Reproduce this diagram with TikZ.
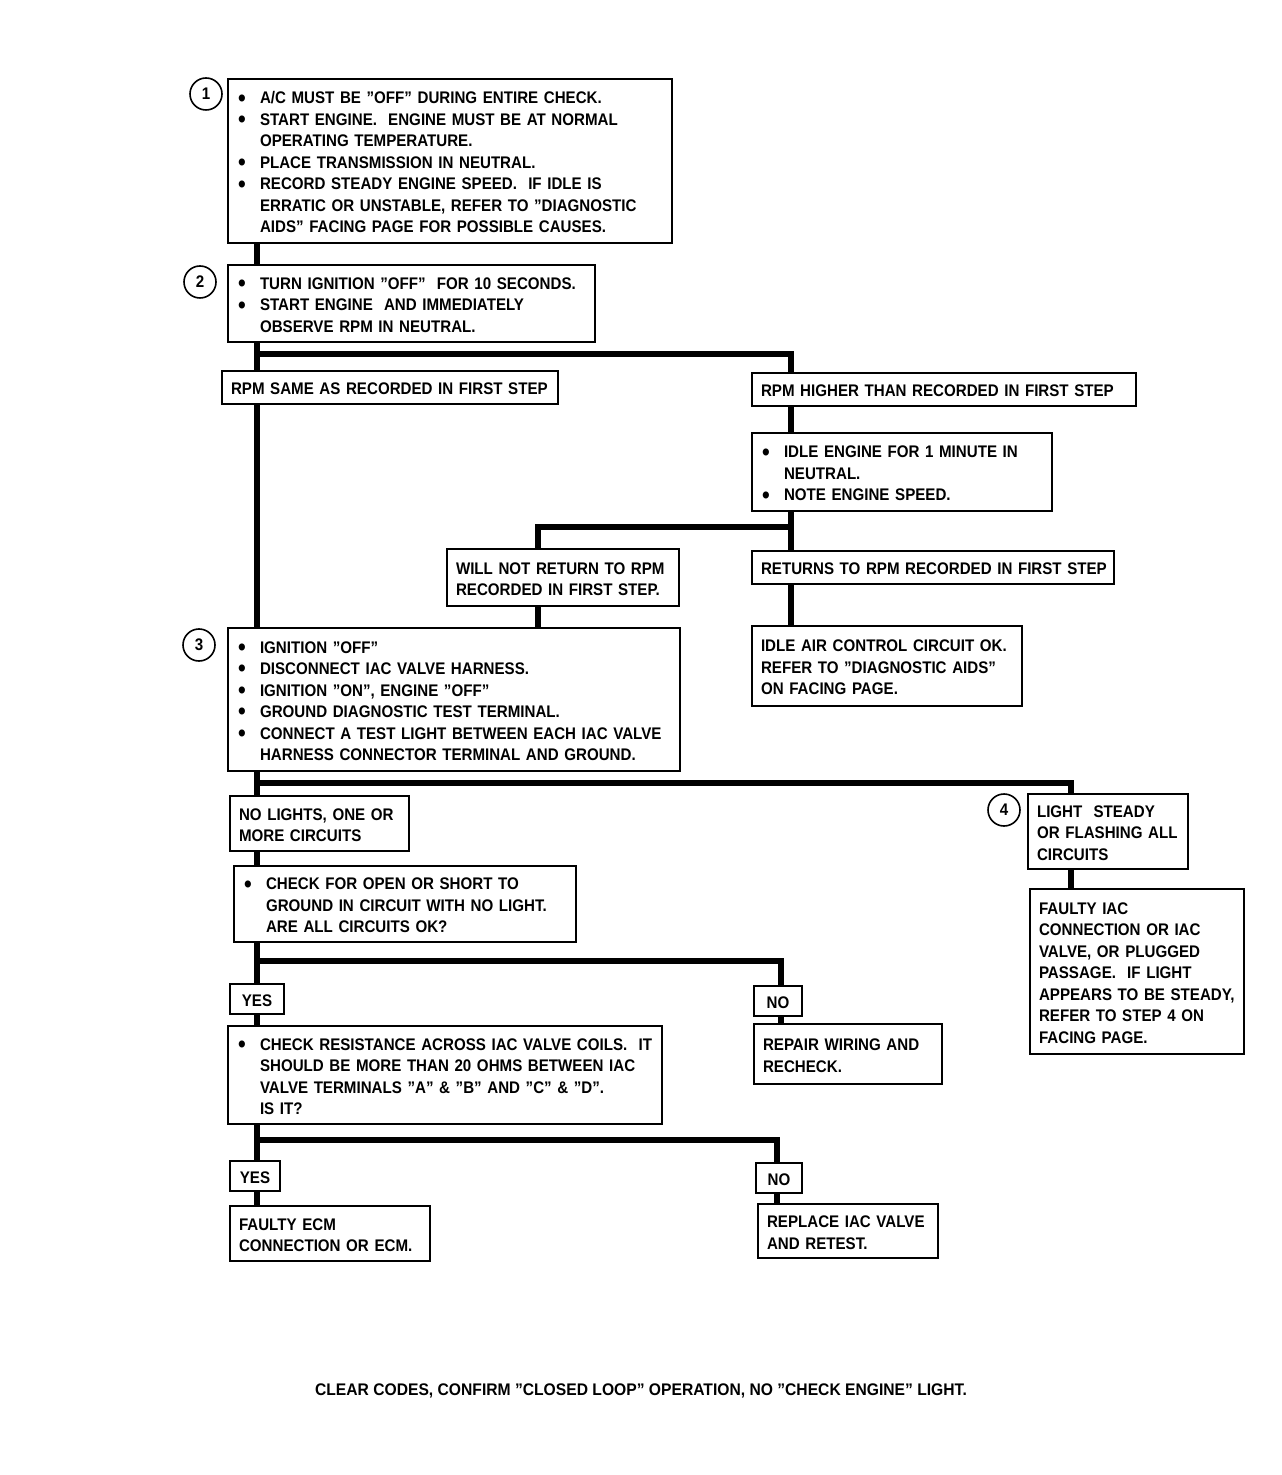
\documentclass[tikz,border=0pt]{standalone}
\usepackage{fontspec}
\setmainfont{Liberation Sans}[FakeStretch=0.9]
\newcommand\diagfont{\bfseries\fontsize{8.4}{10.75}\selectfont}
\newcommand\bulitem{\makebox[11.5pt][l]{\hspace*{0.6pt}\raisebox{-1.2pt}{\scalebox{1.45}{\textbullet}}}}
\newcommand\contind{\hspace*{11.5pt}}
\tikzset{
  box/.style={draw, line width=1pt, anchor=north west, align=left, inner xsep=4.5pt, inner ysep=0pt, font=\diagfont},
  ynbox/.style={draw, line width=1pt, anchor=north west, align=center, inner sep=0pt, font=\diagfont},
  conn/.style={line width=2.6pt},
  num/.style={circle, draw, line width=0.8pt, minimum size=16pt, inner sep=0pt, font=\diagfont},
}
\newcommand\bx[6]{%
  \pgfmathsetmacro\bxw{(#4-#2)*0.5-9}%
  \pgfmathsetmacro\bxh{(#5-#3)*0.5}%
  \node[box, text width=\bxw pt, minimum height=\bxh pt] (#1) at (#2,#3) {\raisebox{-1.5pt}[\height][\depth]{\begin{tabular}{@{}l@{}}#6\end{tabular}}};}
\newcommand\yn[6]{%
  \pgfmathsetmacro\bxw{(#4-#2)*0.5}%
  \pgfmathsetmacro\bxh{(#5-#3)*0.5}%
  \node[ynbox, minimum width=\bxw pt, minimum height=\bxh pt] (#1) at (#2,#3) {\raisebox{-1pt}[\height][\depth]{#6}};}
\begin{document}
\begin{tikzpicture}[x=0.5pt,y=-0.5pt]
\useasboundingbox (0,0) rectangle (1281,1475);

% boxes
\bx{b1}{227}{78}{671}{242}{\bulitem A/C MUST BE "OFF" DURING ENTIRE CHECK.\\
\bulitem START ENGINE.\ \ ENGINE MUST BE AT NORMAL\\
\contind OPERATING TEMPERATURE.\\
\bulitem PLACE TRANSMISSION IN NEUTRAL.\\
\bulitem RECORD STEADY ENGINE SPEED.\ \ IF IDLE IS\\
\contind ERRATIC OR UNSTABLE, REFER TO "DIAGNOSTIC\\
\contind AIDS" FACING PAGE FOR POSSIBLE CAUSES.}
\bx{b2}{227}{264}{594}{341}{\bulitem TURN IGNITION "OFF"\ \ FOR 10 SECONDS.\\
\bulitem START ENGINE\ \ AND IMMEDIATELY\\
\contind OBSERVE RPM IN NEUTRAL.}
\bx{same}{221}{370}{557}{403}{RPM SAME AS RECORDED IN FIRST STEP}
\bx{higher}{751}{372}{1135}{405}{RPM HIGHER THAN RECORDED IN FIRST STEP}
\bx{idle}{751}{432}{1051}{510}{\bulitem IDLE ENGINE FOR 1 MINUTE IN\\
\contind NEUTRAL.\\
\bulitem NOTE ENGINE SPEED.}
\bx{willnot}{446}{548}{678}{605}{WILL NOT RETURN TO RPM\\ RECORDED IN FIRST STEP.}
\bx{returns}{751}{550}{1113}{583}{RETURNS TO RPM RECORDED IN FIRST STEP}
\bx{iacok}{751}{625}{1021}{705}{IDLE AIR CONTROL CIRCUIT OK.\\ REFER TO "DIAGNOSTIC AIDS"\\ ON FACING PAGE.}
\bx{b3}{227}{627}{679}{770}{\bulitem IGNITION "OFF"\\
\bulitem DISCONNECT IAC VALVE HARNESS.\\
\bulitem IGNITION "ON", ENGINE "OFF"\\
\bulitem GROUND DIAGNOSTIC TEST TERMINAL.\\
\bulitem CONNECT A TEST LIGHT BETWEEN EACH IAC VALVE\\
\contind HARNESS CONNECTOR TERMINAL AND GROUND.}
\bx{nolights}{229}{795}{408}{850}{NO LIGHTS, ONE OR\\ MORE CIRCUITS}
\bx{light}{1027}{793}{1187}{868}{LIGHT\ \ STEADY\\ OR FLASHING ALL\\ CIRCUITS}
\bx{faulty}{1029}{888}{1243}{1053}{FAULTY IAC\\ CONNECTION OR IAC\\ VALVE, OR PLUGGED\\ PASSAGE.\ \ IF LIGHT\\ APPEARS TO BE STEADY,\\ REFER TO STEP 4 ON\\ FACING PAGE.}
\bx{chkopen}{233}{865}{575}{941}{\bulitem CHECK FOR OPEN OR SHORT TO\\
\contind GROUND IN CIRCUIT WITH NO LIGHT.\\
\contind ARE ALL CIRCUITS OK?}
\yn{yes1}{229}{983}{283}{1013}{YES}
\yn{no1}{753}{985}{801}{1015}{NO}
\bx{chkres}{227}{1025}{661}{1123}{\bulitem CHECK RESISTANCE ACROSS IAC VALVE COILS.\ \ IT\\
\contind SHOULD BE MORE THAN 20 OHMS BETWEEN IAC\\
\contind VALVE TERMINALS "A" \& "B" AND "C" \& "D".\\
\contind IS IT?}
\bx{repair}{753}{1023}{941}{1083}{REPAIR WIRING AND\\ RECHECK.}
\yn{yes2}{229}{1160}{279}{1190}{YES}
\yn{no2}{755}{1162}{801}{1192}{NO}
\bx{ecm}{229}{1205}{429}{1260}{FAULTY ECM\\ CONNECTION OR ECM.}
\bx{replace}{757}{1203}{937}{1257}{REPLACE IAC VALVE\\ AND RETEST.}

% step numbers
\node[num] (c1) at (206,94) {1};
\node[num] (c2) at (200,282) {2};
\node[num] (c3) at (199,645) {3};
\node[num] (c4) at (1004,810) {4};

% footer
\node[font=\diagfont, inner sep=0pt] (foot) at (641,1391) {\scalebox{1.035}[1]{CLEAR CODES, CONFIRM "CLOSED LOOP" OPERATION, NO "CHECK ENGINE" LIGHT.}};

% connector columns and junctions
\coordinate (xa) at (257,0);
\coordinate (xb) at (791,0);
\coordinate (xc) at (538,0);
\coordinate (xd) at (1071,0);
\coordinate (xe) at (781,0);
\coordinate (xf) at (777,0);
\coordinate (j1) at (257,354);
\coordinate (j2) at (791,527);
\coordinate (j3) at (257,783);
\coordinate (j4) at (257,961);
\coordinate (j5) at (257,1140);

\draw[conn] (b1.south -| xa) -- (b2.north -| xa);
\draw[conn] (b2.south -| xa) -- (same.north -| xa);
\draw[conn] (same.south -| xa) -- (b3.north -| xa);
\draw[conn] (j1) -| (higher.north -| xb);
\draw[conn] (higher.south -| xb) -- (idle.north -| xb);
\draw[conn] (idle.south -| xb) -- (returns.north -| xb);
\draw[conn] (j2) -| (willnot.north -| xc);
\draw[conn] (returns.south -| xb) -- (iacok.north -| xb);
\draw[conn] (willnot.south -| xc) -- (b3.north -| xc);
\draw[conn] (b3.south -| xa) -- (nolights.north -| xa);
\draw[conn] (j3) -| (light.north -| xd);
\draw[conn] (light.south -| xd) -- (faulty.north -| xd);
\draw[conn] (nolights.south -| xa) -- (chkopen.north -| xa);
\draw[conn] (chkopen.south -| xa) -- (yes1.north -| xa);
\draw[conn] (j4) -| (no1.north -| xe);
\draw[conn] (yes1.south -| xa) -- (chkres.north -| xa);
\draw[conn] (no1.south -| xe) -- (repair.north -| xe);
\draw[conn] (chkres.south -| xa) -- (yes2.north -| xa);
\draw[conn] (j5) -| (no2.north -| xf);
\draw[conn] (yes2.south -| xa) -- (ecm.north -| xa);
\draw[conn] (no2.south -| xf) -- (replace.north -| xf);
\end{tikzpicture}
\end{document}
